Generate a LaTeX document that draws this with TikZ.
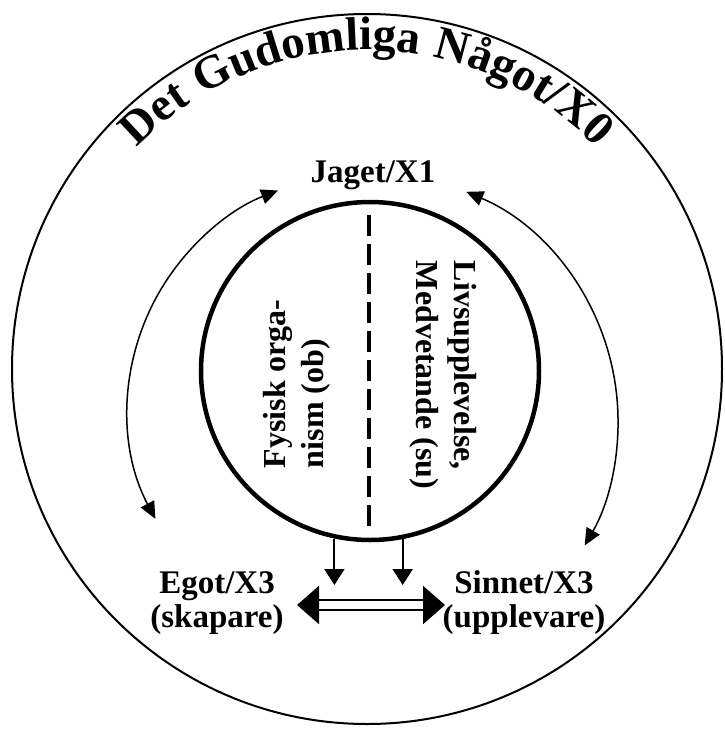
\documentclass[tikz,border=0pt]{standalone}
\usepackage{fontspec}
\setmainfont{Liberation Serif}
\newfontfamily\titlefont[LetterSpace=4]{Liberation Serif}
\usetikzlibrary{arrows.meta,decorations.text,calc}
\begin{document}
\begin{tikzpicture}[x=1pt,y=1pt,
  lbl/.style={font=\bfseries\fontsize{33}{34}\selectfont, align=center, inner sep=0pt},
  vlbl/.style={font=\bfseries\fontsize{32}{38}\selectfont, align=left, inner sep=0pt},
  arcarrow/.style={line width=1.5pt, {Triangle[length=17pt,width=15pt]}-{Triangle[length=17pt,width=15pt]}},
  downarrow/.style={line width=2pt, -{Triangle[length=16pt,width=20pt]}},
  dblarrow/.style={double=white, double distance=8pt, line width=2.2pt, {Triangle[length=22pt,width=38pt]}-{Triangle[length=22pt,width=38pt]}},
  divider/.style={line width=3.5pt, dash pattern=on 21pt off 8pt}]
\useasboundingbox (0,0) rectangle (724,-729);
\node[circle, draw, line width=2pt, minimum size=710pt, inner sep=0pt] (outer) at (367,-369) {};
\node[circle, draw, line width=4.5pt, minimum size=338pt, inner sep=0pt] (inner) at (370,-371) {};
% title along arc
\path[decorate, decoration={text along path, text align=center,
  text={|\titlefont\bfseries\fontsize{47}{50}\selectfont|Det Gudomliga Något/X0}}]
  (outer.center) ++(150:319) arc[start angle=150, end angle=30, radius=319];
% labels
\node[lbl] (jaget) at (373,-175) {Jaget/X1};
\node[lbl] (egot) at (217,-603) {Egot/X3\\(skapare)};
\node[lbl] (sinnet) at (524,-603) {Sinnet/X3\\(upplevare)};
\node[vlbl, rotate=90] (fys) at (297,-384) {Fysisk orga-\\nism (ob)};
\node[vlbl, rotate=-90] (liv) at (443,-375) {Livsupplevelse,\\Medvetande (su)};
% divider
\coordinate (dtop) at (369,-215);
\coordinate (dbot) at (369,-532);
\draw[divider] (dtop) -- (dbot);
% arc arrows
\coordinate (lc) at (362,-409);
\coordinate (rc) at (369,-421);
\draw[arcarrow] ($(lc)+(208:234)$) arc[start angle=208, end angle=111, radius=234];
\draw[arcarrow] ($(rc)+(67:249)$) arc[start angle=67, end angle=-30, radius=249];
% down arrows
\draw[downarrow] (inner.258) -- (inner.258 |- 0,-585);
\draw[downarrow] (inner.281) -- (inner.281 |- 0,-585);
% double arrow
\coordinate (la) at (297,-605);
\coordinate (ra) at (445,-605);
\draw[dblarrow] (la) -- (ra);
\end{tikzpicture}
\end{document}
